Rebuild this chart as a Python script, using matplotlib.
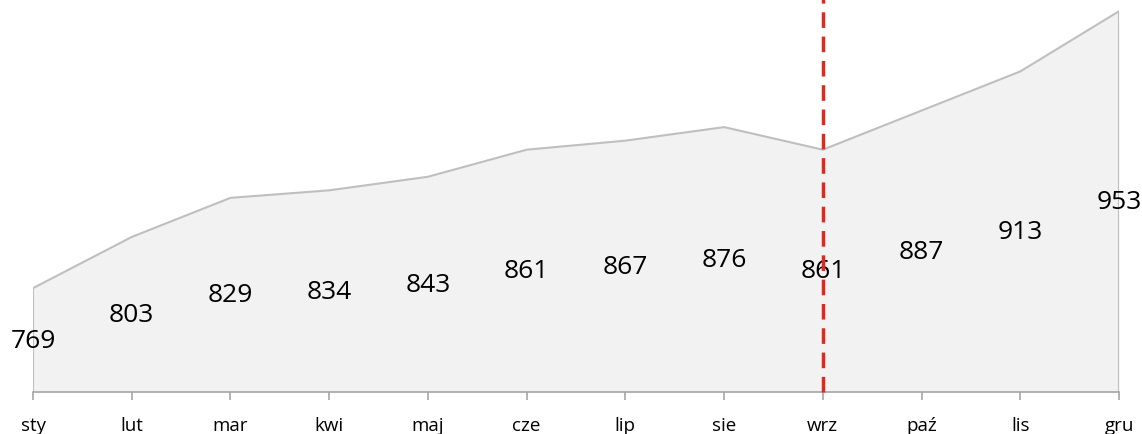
import matplotlib
matplotlib.use("Agg")
import matplotlib.pyplot as plt
import numpy as np

months = ["sty", "lut", "mar", "kwi", "maj", "cze", "lip", "sie", "wrz", "paź", "lis", "gru"]
values = [769, 803, 829, 834, 843, 861, 867, 876, 861, 887, 913, 953]
marker_month = "wrz"
y_floor = 700

plt.rcParams["font.family"] = ["Open Sans", "DejaVu Sans"]

fig = plt.figure(figsize=(11.42, 4.35), dpi=100)
ax = fig.add_axes([33 / 1142, 42 / 435, (1119 - 33) / 1142, 393 / 435])

x = np.arange(len(months))
ax.fill_between(x, y_floor, values, color="#f2f2f2", linewidth=0, zorder=1)
# outline including the vertical edges at both ends
ox = np.concatenate([[x[0]], x, [x[-1]]])
oy = np.concatenate([[y_floor], values, [y_floor]])
ax.plot(ox, oy, color="#bfbfbf", linewidth=1.5, zorder=2)

# value labels centred in the filled area
for xi, v in zip(x, values):
    ax.text(xi, (y_floor + v) / 2, str(v), ha="center", va="center",
            fontsize=19, color="black", zorder=3)

# dashed marker line
mi = months.index(marker_month)
ax.plot([mi, mi], [y_floor, 961], color="#dd2a1f", linewidth=2.5,
        dashes=(4.5, 2.5), zorder=4, clip_on=False)

ax.set_xlim(0, len(months) - 1)
ax.set_ylim(y_floor, y_floor + 393 / 1.505)
for s in ["top", "right", "left"]:
    ax.spines[s].set_visible(False)
ax.spines["bottom"].set_color("#a6a6a6")
ax.spines["bottom"].set_linewidth(1.2)
ax.set_yticks([])
ax.set_xticks(x)
ax.set_xticklabels(months, fontsize=13.5)
ax.tick_params(axis="x", length=6, width=1.2, color="#a6a6a6", pad=11)
ax.set_facecolor("none")

fig.savefig("out.png", dpi=100)
